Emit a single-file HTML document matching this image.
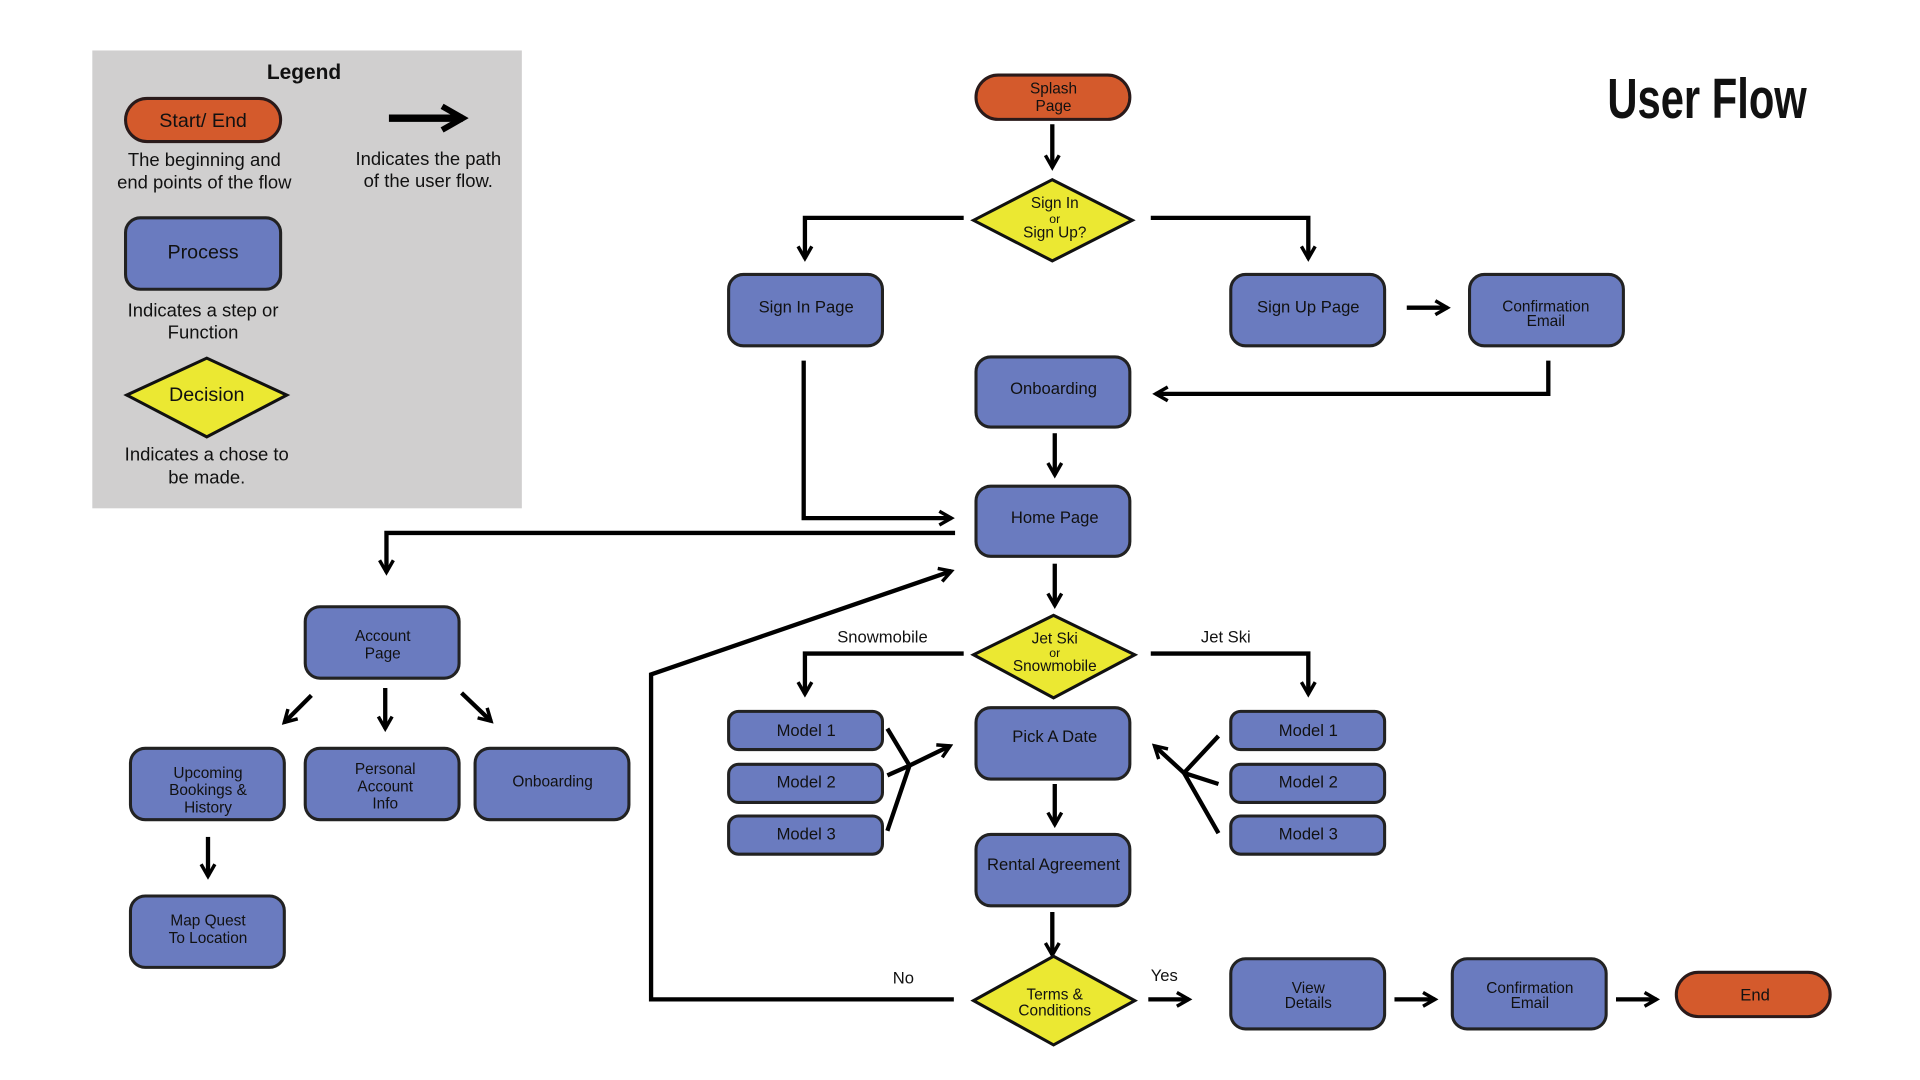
<!DOCTYPE html>
<html><head><meta charset="utf-8"><style>
html,body{margin:0;padding:0;background:#fff;}
svg{display:block;}
text{font-family:"Liberation Sans",sans-serif;fill:#111;text-anchor:middle;}
.b{fill:#6a7bbf;stroke:#222;stroke-width:2.5;}
.o{fill:#d45a2c;stroke:#2a1a1a;stroke-width:2.5;}
.y{fill:#ebe832;stroke:#111;stroke-width:2.5;}
.l{fill:none;stroke:#000;stroke-width:3.5;}
.t{font-size:13.5px;}
.s{font-size:12.5px;}
</style></head><body>
<svg width="1920" height="1080" viewBox="0 0 1560 877.5" preserveAspectRatio="none" xmlns="http://www.w3.org/2000/svg">
<defs>
<marker id="a" viewBox="0 0 10 10" refX="8" refY="5" markerWidth="4" markerHeight="4" orient="auto" markerUnits="strokeWidth">
<path d="M1,1 L8,5 L1,9" fill="none" stroke="#000" stroke-width="2"/>
</marker>
</defs>
<!-- Legend -->
<rect x="75" y="41" width="349" height="372" fill="#d0cfcf"/>
<text x="247" y="64" style="font-size:17px;font-weight:bold">Legend</text>
<rect class="o" x="102" y="80" width="126" height="35" rx="17.5"/>
<text x="165" y="103" style="font-size:16px">Start/ End</text>
<line x1="316" y1="96" x2="376" y2="96" stroke="#000" stroke-width="6" marker-end="url(#a)"/>
<text x="166" y="135" style="font-size:15px">The beginning and</text>
<text x="166" y="153" style="font-size:15px">end points of the flow</text>
<text x="348" y="134" style="font-size:15px">Indicates the path</text>
<text x="348" y="152" style="font-size:15px">of the user flow.</text>
<rect class="b" x="102" y="177" width="126" height="58" rx="12"/>
<text x="165" y="210" style="font-size:16px">Process</text>
<text x="165" y="257" style="font-size:15px">Indicates a step or</text>
<text x="165" y="275" style="font-size:15px">Function</text>
<polygon class="y" points="103,321 168,291 233,321 168,355"/>
<text x="168" y="326" style="font-size:16px">Decision</text>
<text x="168" y="374" style="font-size:15px">Indicates a chose to</text>
<text x="168" y="393" style="font-size:15px">be made.</text>
<!-- Title -->
<text x="1387" y="96" textLength="162" lengthAdjust="spacingAndGlyphs" style="font-size:46px;font-weight:bold;font-family:'Liberation Sans Narrow','Liberation Sans',sans-serif">User Flow</text>

<!-- connectors -->
<g class="l">
<path d="M855,101 V136" marker-end="url(#a)"/>
<path d="M783,177 H654 V210" marker-end="url(#a)"/>
<path d="M935,177 H1063 V210" marker-end="url(#a)"/>
<path d="M1143,250 H1176" marker-end="url(#a)"/>
<path d="M1258,293 V320 H939" marker-end="url(#a)"/>
<path d="M857,352 V386" marker-end="url(#a)"/>
<path d="M653,293 V421 H773" marker-end="url(#a)"/>
<path d="M776,433 H314 V465" marker-end="url(#a)"/>
<path d="M857,458 V492" marker-end="url(#a)"/>
<path d="M783,531 H654 V564" marker-end="url(#a)"/>
<path d="M935,531 H1063 V564" marker-end="url(#a)"/>
<path d="M721,592 L739,622 M721,630 L739,622 M721,675 L739,622"/>
<path d="M739,622 L772,606" marker-end="url(#a)"/>
<path d="M990,598 L962,628 M990,637 L962,628 M990,677 L962,628"/>
<path d="M962,628 L938,606" marker-end="url(#a)"/>
<path d="M857,637 V670" marker-end="url(#a)"/>
<path d="M855,741 V776" marker-end="url(#a)"/>
<path d="M775,812 H529 V548 L773,464" marker-end="url(#a)"/>
<path d="M933,812 H966" marker-end="url(#a)"/>
<path d="M1133,812 H1166" marker-end="url(#a)"/>
<path d="M1313,812 H1346" marker-end="url(#a)"/>
<path d="M253,565 L231,587" marker-end="url(#a)"/>
<path d="M313,559 V592" marker-end="url(#a)"/>
<path d="M375,563 L399,586" marker-end="url(#a)"/>
<path d="M169,680 V712" marker-end="url(#a)"/>
</g>

<!-- nodes -->
<rect class="o" x="793" y="61" width="125" height="36" rx="18"/>
<text class="s" x="856" y="76">Splash</text><text class="s" x="856" y="90">Page</text>
<polygon class="y" points="791,179 855,146 920,179 855,212"/>
<text class="s" x="857" y="169">Sign In</text><text x="857" y="181" style="font-size:10px">or</text><text class="s" x="857" y="193">Sign Up?</text>

<rect class="b" x="592" y="223" width="125" height="58" rx="12"/><text class="t" x="655" y="254">Sign In Page</text>
<rect class="b" x="1000" y="223" width="125" height="58" rx="12"/><text class="t" x="1063" y="254">Sign Up Page</text>
<rect class="b" x="1194" y="223" width="125" height="58" rx="12"/><text class="s" x="1256" y="253">Confirmation</text><text class="s" x="1256" y="265">Email</text>
<rect class="b" x="793" y="290" width="125" height="57" rx="12"/><text class="t" x="856" y="320">Onboarding</text>
<rect class="b" x="793" y="395" width="125" height="57" rx="12"/><text class="t" x="857" y="425">Home Page</text>

<polygon class="y" points="791,532 856,500 922,532 856,567"/>
<text class="s" x="857" y="523">Jet Ski</text><text x="857" y="534" style="font-size:10px">or</text><text class="s" x="857" y="545">Snowmobile</text>
<text class="t" x="717" y="522">Snowmobile</text>
<text class="t" x="996" y="522">Jet Ski</text>

<rect class="b" x="592" y="578" width="125" height="31" rx="8"/><text class="t" x="655" y="598">Model 1</text>
<rect class="b" x="592" y="621" width="125" height="31" rx="8"/><text class="t" x="655" y="640">Model 2</text>
<rect class="b" x="592" y="663" width="125" height="31" rx="8"/><text class="t" x="655" y="682">Model 3</text>
<rect class="b" x="1000" y="578" width="125" height="31" rx="8"/><text class="t" x="1063" y="598">Model 1</text>
<rect class="b" x="1000" y="621" width="125" height="31" rx="8"/><text class="t" x="1063" y="640">Model 2</text>
<rect class="b" x="1000" y="663" width="125" height="31" rx="8"/><text class="t" x="1063" y="682">Model 3</text>

<rect class="b" x="793" y="575" width="125" height="58" rx="12"/><text class="t" x="857" y="603">Pick A Date</text>
<rect class="b" x="793" y="678" width="125" height="58" rx="12"/><text class="t" x="856" y="707">Rental Agreement</text>

<polygon class="y" points="791,813 856,777 922,813 856,849"/>
<text class="s" x="857" y="812">Terms &amp;</text><text class="s" x="857" y="825">Conditions</text>
<text class="t" x="734" y="799">No</text>
<text class="t" x="946" y="797">Yes</text>

<rect class="b" x="1000" y="779" width="125" height="57" rx="12"/><text class="s" x="1063" y="807">View</text><text class="s" x="1063" y="819">Details</text>
<rect class="b" x="1180" y="779" width="125" height="57" rx="12"/><text class="s" x="1243" y="807">Confirmation</text><text class="s" x="1243" y="819">Email</text>
<rect class="o" x="1362" y="790" width="125" height="36" rx="18"/><text class="t" x="1426" y="813">End</text>

<rect class="b" x="248" y="493" width="125" height="58" rx="12"/><text class="s" x="311" y="521">Account</text><text class="s" x="311" y="535">Page</text>
<rect class="b" x="106" y="608" width="125" height="58" rx="12"/><text class="s" x="169" y="632">Upcoming</text><text class="s" x="169" y="646">Bookings &amp;</text><text class="s" x="169" y="660">History</text>
<rect class="b" x="248" y="608" width="125" height="58" rx="12"/><text class="s" x="313" y="629">Personal</text><text class="s" x="313" y="643">Account</text><text class="s" x="313" y="657">Info</text>
<rect class="b" x="386" y="608" width="125" height="58" rx="12"/><text class="s" x="449" y="639">Onboarding</text>
<rect class="b" x="106" y="728" width="125" height="58" rx="12"/><text class="s" x="169" y="752">Map Quest</text><text class="s" x="169" y="766">To Location</text>
</svg>
</body></html>
